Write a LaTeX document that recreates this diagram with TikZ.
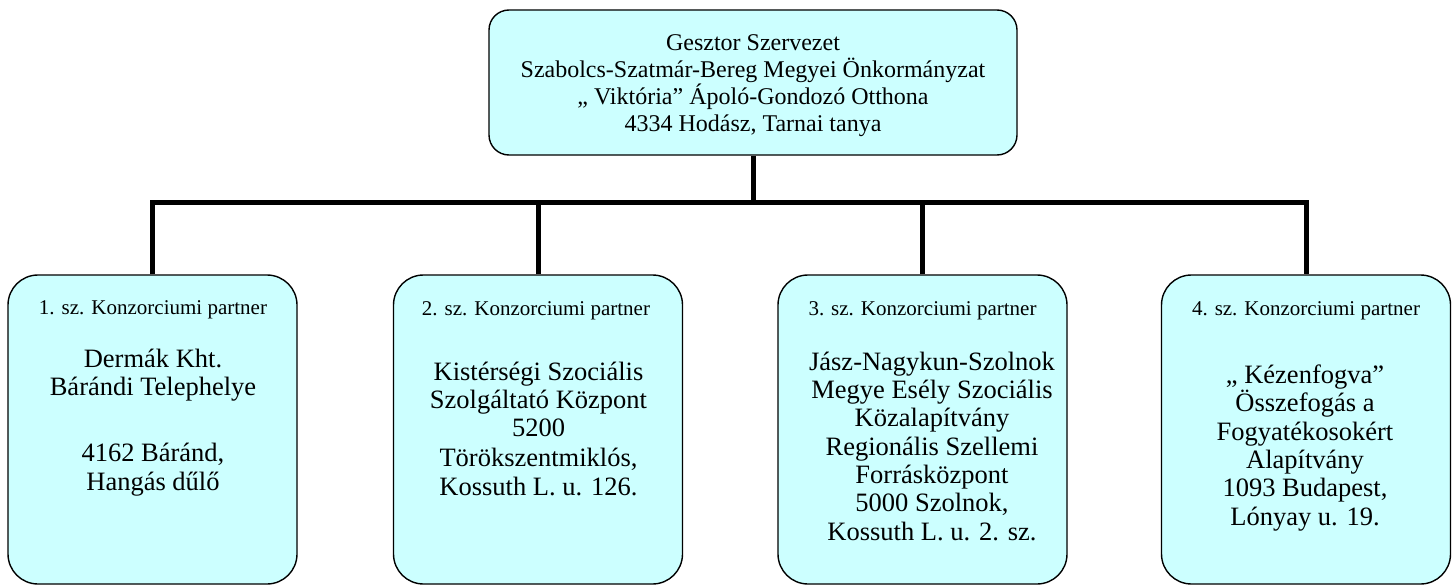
\documentclass[tikz,border=0pt]{standalone}
\usepackage{fontspec}
\setmainfont{Liberation Serif}
\definecolor{boxfill}{HTML}{CCFFFF}
\begin{document}
\begin{tikzpicture}[x=1pt,y=-1pt,
  topbox/.style={draw=black, line width=1.4pt, fill=boxfill, rounded corners=20pt, minimum width=528pt, minimum height=145pt, inner sep=0pt},
  partnerbox/.style={draw=black, line width=1.4pt, fill=boxfill, rounded corners=30pt, minimum width=289pt, minimum height=309pt, inner sep=0pt},
  conn/.style={line width=5pt, line join=miter, draw=black},
  toptext/.style={font=\fontsize{24}{27}\selectfont, align=center, inner sep=0pt, anchor=base},
  lbl/.style={font=\fontsize{21}{24}\selectfont, inner sep=0pt, anchor=base},
  body/.style={font=\fontsize{26.5}{28.3}\selectfont, align=center, inner sep=0pt, anchor=base}]
\useasboundingbox (0,0) rectangle (1454,586);
\fill[white] (0,0) rectangle (1454,586);

\node[topbox] (top) at (753,82.5) {};
% anchor base = baseline of the last line
\node[toptext] (toptxt) at (753,131) {Gesztor Szervezet\\Szabolcs-Szatmár-Bereg Megyei Önkormányzat\\,, Viktória” Ápoló-Gondozó Otthona\\4334 Hodász, Tarnai tanya};

\node[partnerbox] (b1) at (152.5,429.5) {};
\node[partnerbox] (b2) at (538,429.5) {};
\node[partnerbox] (b3) at (922.5,429.5) {};
\node[partnerbox] (b4) at (1306,429.5) {};

\coordinate (bus) at (753,202.5);
\draw[conn] (top.south) -- (bus);
\draw[conn] (b1.north) -- (b1.north |- bus) -- (b4.north |- bus) -- (b4.north);
\draw[conn] (b2.north) -- (b2.north |- bus);
\draw[conn] (b3.north) -- (b3.north |- bus);

\node[lbl] (l1) at (153,314) {1. sz. Konzorciumi partner};
\node[lbl] (l2) at (536,315) {2. sz. Konzorciumi partner};
\node[lbl] (l3) at (922.5,315) {3. sz. Konzorciumi partner};
\node[lbl] (l4) at (1306,315) {4. sz. Konzorciumi partner};

\node[body] (t1) at (153,490) {Dermák Kht.\\Bárándi Telephelye\\[38pt]4162 Báránd,\\Hangás dűlő};
\node[body] (t2) at (538.5,495) {Kistérségi Szociális\\Szolgáltató Központ\\5200\\[1.5pt]Törökszentmiklós,\\Kossuth L. u. 126.};
\node[body] (t3) at (932,540) {Jász-Nagykun-Szolnok\\Megye Esély Szociális\\Közalapítvány\\Regionális Szellemi\\Forrásközpont\\5000 Szolnok,\\Kossuth L. u. 2. sz.};
\node[body] (t4) at (1305,525) {,, Kézenfogva”\\Összefogás a\\Fogyatékosokért\\Alapítvány\\1093 Budapest,\\Lónyay u. 19.};
\end{tikzpicture}
\end{document}
